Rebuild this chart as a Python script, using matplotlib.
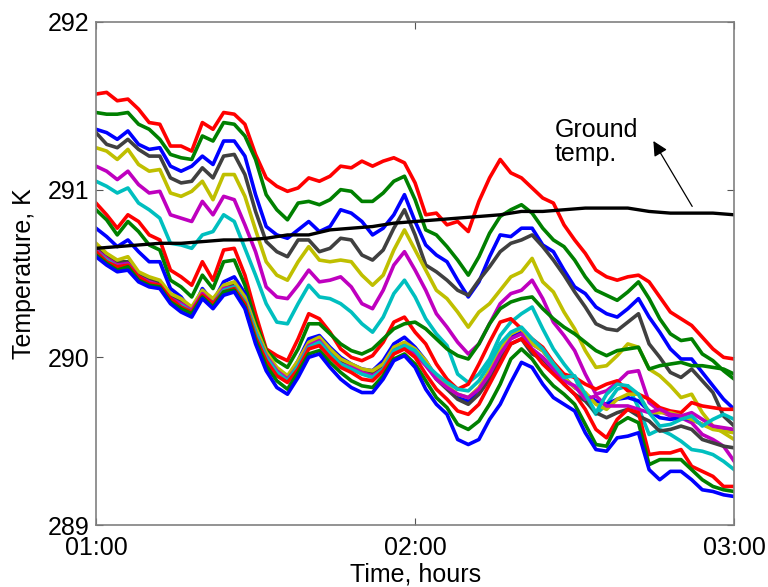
import matplotlib
matplotlib.use("Agg")
import matplotlib.pyplot as plt

plt.rcParams['font.family'] = ['Liberation Sans', 'DejaVu Sans']

# minutes after 01:00; sensor records every 2 min, ground record every 4 min
minutes_fine = list(range(0, 121, 2))
minutes = list(range(0, 121, 4))

red1 = [291.57, 291.58, 291.53, 291.54, 291.48, 291.40, 291.39, 291.26, 291.26, 291.23, 291.40,
        291.36, 291.46, 291.45, 291.39, 291.21, 291.07, 291.02, 290.99, 291.01, 291.07, 291.05,
        291.08, 291.14, 291.13, 291.17, 291.14, 291.17, 291.19, 291.16, 291.04, 290.85, 290.86,
        290.79, 290.81, 290.75, 290.93, 291.07, 291.18, 291.10, 291.07, 291.01, 290.95, 290.92,
        290.79, 290.70, 290.62, 290.52, 290.48, 290.46, 290.48, 290.49, 290.45, 290.36, 290.27,
        290.23, 290.19, 290.12, 290.05, 290.00, 289.99]
green1 = [291.46, 291.45, 291.45, 291.46, 291.39, 291.36, 291.30, 291.21, 291.19, 291.18, 291.32,
          291.29, 291.40, 291.39, 291.32, 291.18, 290.97, 290.88, 290.82, 290.92, 290.93, 290.91,
          290.94, 291.00, 290.99, 290.93, 290.93, 290.98, 291.05, 291.08, 290.94, 290.76, 290.73,
          290.66, 290.58, 290.49, 290.60, 290.74, 290.84, 290.88, 290.91, 290.86, 290.77, 290.70,
          290.66, 290.58, 290.48, 290.40, 290.37, 290.34, 290.39, 290.45, 290.35, 290.23, 290.14,
          290.10, 290.11, 290.02, 289.98, 289.92, 289.87]
blue1 = [291.36, 291.34, 291.30, 291.35, 291.27, 291.24, 291.25, 291.14, 291.11, 291.14, 291.20,
         291.15, 291.29, 291.29, 291.20, 290.97, 290.78, 290.73, 290.71, 290.76, 290.81, 290.75,
         290.78, 290.88, 290.86, 290.81, 290.73, 290.77, 290.85, 290.97, 290.81, 290.67, 290.61,
         290.57, 290.46, 290.36, 290.45, 290.60, 290.73, 290.72, 290.77, 290.77, 290.67, 290.63,
         290.52, 290.42, 290.38, 290.30, 290.26, 290.24, 290.29, 290.35, 290.24, 290.15, 290.05,
         289.99, 289.99, 289.91, 289.83, 289.75, 289.69]
gray1 = [291.34, 291.27, 291.25, 291.30, 291.24, 291.20, 291.20, 291.07, 291.04, 291.05, 291.13,
         291.07, 291.20, 291.21, 291.09, 290.87, 290.69, 290.63, 290.60, 290.70, 290.70, 290.63,
         290.65, 290.71, 290.70, 290.61, 290.58, 290.64, 290.77, 290.88, 290.73, 290.55, 290.51,
         290.46, 290.40, 290.37, 290.46, 290.54, 290.63, 290.68, 290.70, 290.73, 290.66, 290.58,
         290.49, 290.39, 290.30, 290.20, 290.17, 290.16, 290.21, 290.26, 290.08, 290.00, 289.91,
         289.88, 289.93, 289.86, 289.79, 289.65, 289.59]
yellow1 = [291.25, 291.23, 291.18, 291.24, 291.15, 291.11, 291.12, 290.98, 290.96, 290.99, 291.05,
           290.94, 291.09, 291.09, 290.96, 290.76, 290.57, 290.49, 290.46, 290.57, 290.66, 290.58,
           290.57, 290.58, 290.57, 290.49, 290.43, 290.49, 290.64, 290.76, 290.64, 290.52, 290.40,
           290.35, 290.27, 290.18, 290.27, 290.32, 290.40, 290.48, 290.51, 290.59, 290.45, 290.39,
           290.27, 290.17, 290.04, 289.94, 289.95, 290.01, 290.08, 290.06, 289.93, 289.89, 289.83,
           289.76, 289.78, 289.67, 289.59, 289.55, 289.51]
magenta1 = [291.14, 291.11, 291.06, 291.11, 291.03, 290.98, 290.99, 290.85, 290.83, 290.81, 290.93,
            290.85, 290.96, 290.94, 290.79, 290.63, 290.42, 290.36, 290.35, 290.43, 290.52, 290.45,
            290.46, 290.48, 290.42, 290.32, 290.29, 290.40, 290.55, 290.63, 290.52, 290.40, 290.26,
            290.18, 290.09, 290.02, 290.08, 290.20, 290.32, 290.38, 290.40, 290.46, 290.35, 290.21,
            290.13, 290.04, 289.90, 289.78, 289.80, 289.85, 289.91, 289.92, 289.73, 289.68, 289.65,
            289.64, 289.61, 289.54, 289.51, 289.47, 289.38]
cyan1 = [291.05, 291.02, 290.98, 291.01, 290.92, 290.88, 290.83, 290.68, 290.67, 290.65, 290.73,
         290.75, 290.85, 290.81, 290.65, 290.49, 290.32, 290.21, 290.20, 290.32, 290.43, 290.36,
         290.35, 290.32, 290.27, 290.20, 290.15, 290.24, 290.38, 290.46, 290.36, 290.23, 290.14,
         290.07, 289.90, 289.85, 289.90, 289.99, 290.13, 290.21, 290.26, 290.30, 290.17, 290.05,
         289.96, 289.88, 289.75, 289.66, 289.72, 289.81, 289.83, 289.70, 289.54, 289.57, 289.54,
         289.50, 289.45, 289.44, 289.42, 289.38, 289.33]

red2 = [290.92, 290.85, 290.77, 290.85, 290.81, 290.73, 290.70, 290.52, 290.48, 290.43, 290.57,
        290.46, 290.64, 290.65, 290.49, 290.26, 290.05, 290.01, 289.98, 290.11, 290.26, 290.23,
        290.15, 290.05, 290.00, 289.98, 290.01, 290.09, 290.21, 290.24, 290.15, 290.08, 289.96,
        289.87, 289.81, 289.84, 289.96, 290.09, 290.21, 290.23, 290.17, 290.11, 290.06, 289.97,
        289.90, 289.88, 289.84, 289.81, 289.84, 289.86, 289.80, 289.78, 289.75, 289.70, 289.68,
        289.67, 289.73, 289.71, 289.70, 289.69, 289.69]
green2 = [290.88, 290.82, 290.73, 290.81, 290.75, 290.67, 290.64, 290.46, 290.42, 290.36, 290.49,
          290.41, 290.57, 290.58, 290.43, 290.21, 290.04, 289.98, 289.94, 290.05, 290.20, 290.20,
          290.14, 290.08, 290.04, 290.02, 290.05, 290.11, 290.17, 290.20, 290.21, 290.17, 290.11,
          290.05, 290.01, 289.99, 290.08, 290.20, 290.29, 290.33, 290.35, 290.36, 290.29, 290.23,
          290.18, 290.14, 290.09, 290.04, 290.01, 290.04, 290.05, 290.06, 289.93, 289.95, 289.96,
          289.97, 289.95, 289.95, 289.94, 289.93, 289.90]
blue2 = [290.77, 290.72, 290.66, 290.70, 290.63, 290.57, 290.57, 290.41, 290.36, 290.27, 290.41,
         290.33, 290.45, 290.48, 290.38, 290.17, 290.00, 289.92, 289.87, 289.98, 290.11, 290.13,
         290.06, 290.00, 289.96, 289.93, 289.92, 289.98, 290.08, 290.12, 290.06, 289.98, 289.88,
         289.82, 289.76, 289.74, 289.81, 289.92, 290.04, 290.12, 290.15, 290.08, 290.04, 289.96,
         289.88, 289.82, 289.78, 289.74, 289.72, 289.75, 289.76, 289.74, 289.68, 289.64, 289.63,
         289.64, 289.63, 289.60, 289.58, 289.57, 289.56]
gray2 = [290.66, 290.60, 290.57, 290.57, 290.49, 290.46, 290.45, 290.36, 290.33, 290.29, 290.39,
         290.33, 290.42, 290.43, 290.35, 290.17, 290.02, 289.93, 289.88, 289.96, 290.08, 290.11,
         290.04, 289.98, 289.95, 289.92, 289.90, 289.94, 290.05, 290.08, 290.04, 289.96, 289.87,
         289.81, 289.75, 289.72, 289.78, 289.87, 289.99, 290.08, 290.11, 290.02, 289.99, 289.92,
         289.84, 289.78, 289.74, 289.67, 289.64, 289.67, 289.69, 289.65, 289.62, 289.56, 289.57,
         289.59, 289.57, 289.51, 289.49, 289.47, 289.46]
yellow2 = [290.68, 290.62, 290.58, 290.60, 290.51, 290.48, 290.46, 290.38, 290.35, 290.30, 290.40,
           290.35, 290.43, 290.45, 290.36, 290.18, 290.03, 289.94, 289.89, 289.98, 290.09, 290.12,
           290.05, 289.99, 289.96, 289.93, 289.92, 289.96, 290.06, 290.09, 290.05, 289.98, 289.88,
           289.83, 289.78, 289.76, 289.82, 289.92, 290.05, 290.14, 290.17, 290.08, 290.04, 289.96,
           289.88, 289.82, 289.79, 289.72, 289.69, 289.75, 289.78, 289.78, 289.67, 289.67, 289.67,
           289.65, 289.63, 289.60, 289.57, 289.56, 289.55]
magenta2 = [290.64, 290.59, 290.55, 290.56, 290.48, 290.45, 290.43, 290.35, 290.32, 290.28, 290.38,
            290.32, 290.41, 290.42, 290.33, 290.15, 290.01, 289.92, 289.87, 289.95, 290.07, 290.10,
            290.02, 289.96, 289.94, 289.91, 289.89, 289.93, 290.04, 290.07, 290.02, 289.95, 289.87,
            289.82, 289.78, 289.76, 289.81, 289.90, 290.02, 290.11, 290.14, 290.05, 290.00, 289.93,
            289.86, 289.83, 289.75, 289.77, 289.71, 289.71, 289.71, 289.69, 289.67, 289.69, 289.66,
            289.65, 289.67, 289.63, 289.59, 289.58, 289.57]
cyan2 = [290.63, 290.58, 290.54, 290.55, 290.47, 290.44, 290.42, 290.33, 290.31, 290.27, 290.36,
         290.32, 290.40, 290.42, 290.33, 290.15, 290.00, 289.91, 289.86, 289.95, 290.06, 290.09,
         290.02, 289.96, 289.93, 289.90, 289.88, 289.93, 290.04, 290.07, 290.04, 289.96, 289.90,
         289.85, 289.81, 289.80, 289.86, 289.96, 290.08, 290.15, 290.18, 290.11, 290.05, 289.96,
         289.88, 289.89, 289.78, 289.67, 289.78, 289.84, 289.83, 289.78, 289.67, 289.59, 289.60,
         289.63, 289.65, 289.59, 289.63, 289.66, 289.63]
red3 = [290.63, 290.57, 290.54, 290.55, 290.48, 290.44, 290.43, 290.35, 290.30, 290.27, 290.37,
        290.32, 290.39, 290.41, 290.32, 290.12, 289.98, 289.89, 289.85, 289.93, 290.05, 290.07,
        290.00, 289.94, 289.91, 289.87, 289.86, 289.92, 290.02, 290.05, 290.00, 289.90, 289.81,
        289.75, 289.68, 289.66, 289.72, 289.84, 289.96, 290.08, 290.11, 290.04, 289.96, 289.90,
        289.84, 289.78, 289.69, 289.57, 289.52, 289.63, 289.69, 289.67, 289.42, 289.43, 289.43,
        289.45, 289.35, 289.32, 289.29, 289.23, 289.23]
green3 = [290.61, 290.56, 290.52, 290.54, 290.46, 290.43, 290.42, 290.33, 290.29, 290.26, 290.36,
          290.30, 290.39, 290.40, 290.30, 290.10, 289.95, 289.86, 289.81, 289.91, 290.02, 290.04,
          289.97, 289.91, 289.86, 289.83, 289.82, 289.89, 289.99, 290.02, 289.96, 289.86, 289.76,
          289.70, 289.60, 289.57, 289.62, 289.72, 289.84, 289.99, 290.05, 289.99, 289.90, 289.83,
          289.78, 289.72, 289.60, 289.48, 289.47, 289.60, 289.64, 289.61, 289.36, 289.39, 289.39,
          289.39, 289.33, 289.27, 289.23, 289.21, 289.20]
blue3 = [290.60, 290.55, 290.51, 290.52, 290.45, 290.42, 290.41, 290.32, 290.27, 290.24, 290.35,
         290.29, 290.37, 290.39, 290.29, 290.08, 289.92, 289.82, 289.78, 289.88, 290.00, 290.02,
         289.94, 289.87, 289.82, 289.79, 289.79, 289.87, 289.98, 290.01, 289.94, 289.81, 289.72,
         289.66, 289.51, 289.48, 289.51, 289.63, 289.72, 289.85, 289.97, 289.94, 289.84, 289.76,
         289.72, 289.68, 289.55, 289.45, 289.44, 289.52, 289.53, 289.55, 289.33, 289.27, 289.32,
         289.32, 289.27, 289.21, 289.20, 289.18, 289.17]

ground = [290.65, 290.66, 290.67, 290.68, 290.68, 290.69, 290.70, 290.70, 290.71, 290.73, 290.73,
          290.76, 290.77, 290.78, 290.80, 290.81, 290.82, 290.83, 290.84, 290.85, 290.87, 290.87,
          290.88, 290.89, 290.89, 290.89, 290.87, 290.86, 290.86, 290.86, 290.85]

sensors = [red1, green1, blue1, gray1, yellow1, magenta1, cyan1,
           red2, green2, blue2, gray2, yellow2, magenta2, cyan2,
           red3, green3, blue3]
palette = ['#ff0000', '#008000', '#0000ff', '#404040', '#bfbf00', '#bf00bf', '#00bfbf']

xticks = [0, 60, 120]
xticklabels = ['01:00', '02:00', '03:00']
yticks = [289, 290, 291, 292]

fig = plt.figure(figsize=(7.68, 5.87), dpi=100)
ax = fig.add_axes([0.125, 0.1056, 0.831, 0.857])

for i, s in enumerate(sensors):
    ax.plot(minutes_fine, s, color=palette[i % 7], lw=2.6, solid_joinstyle='round')
ax.plot(minutes, ground, color='black', lw=2.4)

ax.set_xlim(0, 120)
ax.set_ylim(289, 292)
ax.set_xticks(xticks)
ax.set_xticklabels(xticklabels)
ax.set_yticks(yticks)
ax.tick_params(direction='in', length=5, width=0.8, color='#555555',
               labelsize=18, top=True, right=True)
ax.tick_params(axis='x', pad=8)
ax.tick_params(axis='y', pad=5)
for sp in ax.spines.values():
    sp.set_color('#808080')
    sp.set_linewidth(1.2)

ax.set_xlabel('Time, hours', fontsize=18, labelpad=2)
ax.set_ylabel('Temperature, K', fontsize=18, labelpad=8)

ax.text(86.3, 291.43, 'Ground\ntemp.', fontsize=18, va='top', ha='left', linespacing=1.05)
ax.annotate('', xy=(104.8, 291.29), xytext=(112.1, 290.90),
            arrowprops=dict(arrowstyle='-|>', color='black', lw=0.9,
                            mutation_scale=22, shrinkA=0, shrinkB=0))

fig.savefig('out.png', dpi=100)
